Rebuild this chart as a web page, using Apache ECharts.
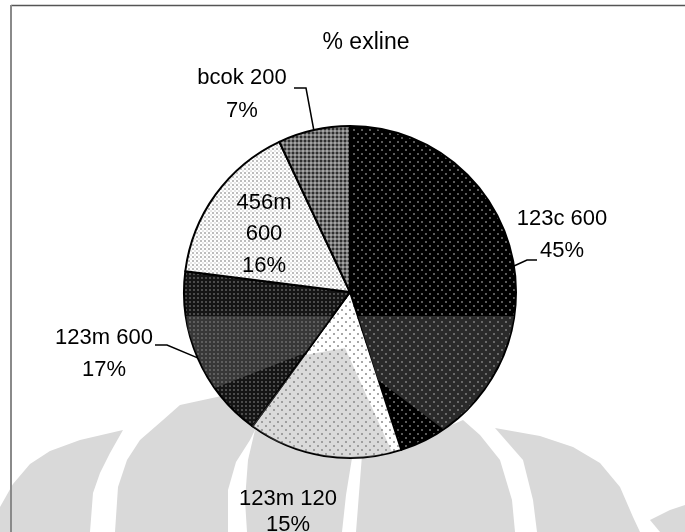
<!DOCTYPE html>
<html>
<head>
<meta charset="utf-8">
<script src="https://cdn.jsdelivr.net/npm/echarts@6/dist/echarts.min.js"></script>
<style>
  html, body { margin: 0; padding: 0; background: #fff; }
  #chart { width: 685px; height: 532px; }
</style>
</head>
<body>
<div id="chart"></div>
<script>
// Data
const categories = ['123c 600', '123m 120', '123m 600', '456m 600', 'bcok 200'];
const percents = [45, 15, 17, 16, 7];
const labelNames = ['123c 600', '123m 120', '123m 600', '456m\n600', 'bcok 200'];
const titleText = '% exline';

// Layout
const PIE_CX = 350, PIE_CY = 292, PIE_R = 166;
const labelPos = [[562, 235], [288, 512], [104, 354], [264, 234], [242, 94]];
const labelLineH = [32, 26, 32, 31.5, 33];
// Leader elbows and ends for the outside labels (null = no leader)
const leaderEnds = [[[527, 260], [537, 260]], null, [[167, 345], [155, 345]], null, [[306, 88], [294, 88]]];
const FONT = '"Liberation Sans", Arial, sans-serif';

// Hatched fills, built as small repeating tiles
function tile(size, bg, dots) {
  const c = document.createElement('canvas');
  c.width = c.height = size;
  const g = c.getContext('2d');
  g.fillStyle = bg; g.fillRect(0, 0, size, size);
  dots.forEach(([x, y, w, h, col]) => { g.fillStyle = col; g.fillRect(x, y, w, h); });
  return c;
}
const fills = [
  tile(8, '#000', [[1, 1, 2, 2, '#5a5a5a'], [5, 5, 2, 2, '#5a5a5a']]),
  tile(8, '#fff', [[1, 1, 2, 2, '#a8a8a8'], [5, 5, 2, 2, '#a8a8a8']]),
  tile(4, '#151515', [[1, 1, 2, 2, '#4c4c4c']]),
  tile(4, '#fff', [[0, 0, 2, 2, '#bdbdbd'], [2, 2, 2, 2, '#e6e6e6']]),
  tile(4, '#767676', [[0, 0, 2, 2, '#2e2e2e'], [2, 2, 2, 2, '#a2a2a2']])
];

// Background emblem shapes (behind the pie)
const WM_FILL = '#d9d9d9';
const wmUnder = [
  [[123,430],[80,440],[50,451],[30,464],[13,484],[0,507],[0,532],[90,532],[93,493],[100,473],[110,453]],
  [[163,420],[140,440],[127,460],[118,487],[115,532],[228,532],[228,490],[236,462],[250,440],[270,400],[240,392],[180,405]],
  [[255,430],[248,460],[245,500],[247,532],[342,532],[346,495],[352,458]],
  [[362,455],[356,532],[515,532],[512,500],[500,460],[480,435],[463,420],[440,430]],
  [[495,428],[540,436],[573,447],[600,463],[620,487],[633,517],[640,532],[537,532],[533,500],[523,460]],
  [[650,520],[670,510],[685,505],[685,532],[660,532]]
];
// Translucent parts of the emblem that lie over the pie
const WM_TINT = 'rgba(134,134,134,0.31)';
const wmOver = [
  [[186,316],[332,316],[305,353],[215,388],[204,370],[195,350],[188,330]],
  [[358,316],[514,316],[510,335],[501,360],[487,385],[467,410],[443,429],[378,380]],
  [[305,355],[345,348],[392,452],[370,457],[350,458],[325,456],[300,450],[275,441],[252,426]]
];

const graphics = [];
wmUnder.forEach(pts => graphics.push({ type: 'polygon', z: 0, silent: true, shape: { points: pts }, style: { fill: WM_FILL } }));
wmOver.forEach(pts => graphics.push({ type: 'polygon', z: 50, silent: true, shape: { points: pts }, style: { fill: WM_TINT } }));

// Leader lines start on the rim at each slice's middle angle
const total = percents.reduce((a, b) => a + b, 0);
let acc = 0;
percents.forEach((v, i) => {
  const mid = (acc + v / 2) / total * 2 * Math.PI;
  acc += v;
  if (!leaderEnds[i]) return;
  const ax = PIE_CX + PIE_R * Math.sin(mid), ay = PIE_CY - PIE_R * Math.cos(mid);
  graphics.push({ type: 'polyline', z: 55, silent: true,
    shape: { points: [[ax, ay]].concat(leaderEnds[i]) },
    style: { stroke: '#000', lineWidth: 1.5, fill: null } });
});

// Frame
graphics.push({ type: 'line', z: 60, silent: true, shape: { x1: 11, y1: 5.5, x2: 685, y2: 5.5 }, style: { stroke: '#555', lineWidth: 1.5 } });
graphics.push({ type: 'line', z: 60, silent: true, shape: { x1: 11, y1: 5, x2: 11, y2: 532 }, style: { stroke: '#8a8a8a', lineWidth: 2 } });

const chart = echarts.init(document.getElementById('chart'), null, { renderer: 'canvas' });
chart.setOption({
  animation: false,
  backgroundColor: '#fff',
  title: {
    text: titleText,
    left: 361, top: 26, textAlign: 'center',
    textStyle: { fontFamily: FONT, fontSize: 23, fontWeight: 'normal', color: '#000' }
  },
  graphic: graphics,
  series: [{
    type: 'pie',
    z: 2,
    center: [PIE_CX, PIE_CY],
    radius: PIE_R,
    startAngle: 90,
    clockwise: true,
    avoidLabelOverlap: false,
    itemStyle: { borderColor: '#000', borderWidth: 2 },
    label: {
      show: true,
      fontFamily: FONT, fontSize: 22, color: '#000',
      formatter: p => labelNames[p.dataIndex] + '\n' + Math.round(p.percent) + '%'
    },
    labelLine: { show: false },
    labelLayout: p => ({ x: labelPos[p.dataIndex][0], y: labelPos[p.dataIndex][1], align: 'center', verticalAlign: 'middle' }),
    emphasis: { disabled: true },
    data: categories.map((name, i) => ({
      name,
      value: percents[i],
      itemStyle: { color: { image: fills[i], repeat: 'repeat' } },
      label: { lineHeight: labelLineH[i] }
    }))
  }]
});
</script>
</body>
</html>
